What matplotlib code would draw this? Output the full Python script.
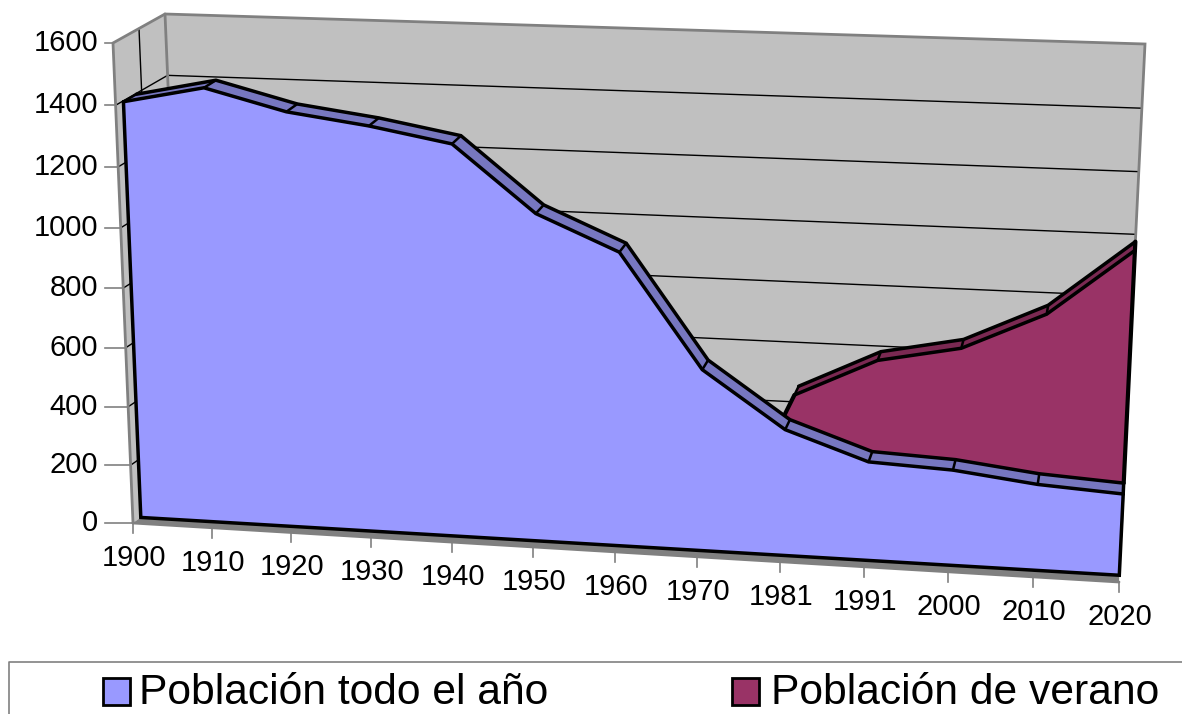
import matplotlib
matplotlib.use('Agg')
import matplotlib.pyplot as plt
import numpy as np
from matplotlib.patches import Rectangle

plt.rcParams['font.family'] = ['Liberation Sans', 'DejaVu Sans']

years = ['1900', '1910', '1920', '1930', '1940', '1950', '1960', '1970', '1981', '1991', '2000', '2010', '2020']
todo_el_ano = [1397, 1452, 1385, 1350, 1303, 1090, 977, 606, 422, 330, 318, 286, 270]
# verano only starts in 1981
verano_years = ['1981', '1991', '2000', '2010', '2020']
verano = [475, 603, 656, 780, 997]
y_ticks = [0, 200, 400, 600, 800, 1000, 1200, 1400, 1600]
legend_labels = ['Población todo el año', 'Población de verano']

BLUE = '#9999FF'
BLUE_TOP = '#7777C0'
PURPLE = '#993366'
PURPLE_TOP = '#7A2952'
WALL = '#C0C0C0'
EDGE = '#808080'

# box corners on screen (pixels): bottom left, bottom right, top left, top right
FRONT = [(133, 523), (1119, 582), (113, 43), (1143, 81)]
BACK = [(185, 486), (1121, 537), (165, 14), (1145, 44)]
Y_MAX = 1600
N = len(years) - 1

# depth of the two series inside the box (0 front, 1 back)
D_BLUE = (0.15, 0.40)
D_PURPLE = (0.62, 0.84)
# the purple face starts a little before its first year
PURPLE_LEAD = 0.07


def homography(corners):
    src = [(0, 0), (1, 0), (0, 1), (1, 1)]
    A, b = [], []
    for (u, v), (x, y) in zip(src, corners):
        A.append([u, v, 1, 0, 0, 0, -u * x, -v * x])
        A.append([0, 0, 0, u, v, 1, -u * y, -v * y])
        b += [x, y]
    h = np.linalg.solve(np.array(A, float), np.array(b, float))
    return np.append(h, 1).reshape(3, 3)


H_FRONT = homography(FRONT)
H_BACK = homography(BACK)


def project(i, value, depth):
    p = np.array([i / N, value / Y_MAX, 1.0])
    f = H_FRONT @ p
    b = H_BACK @ p
    f = f[:2] / f[2]
    b = b[:2] / b[2]
    return f + (b - f) * depth


def path(idx, values, depth):
    return np.array([project(i, v, depth) for i, v in zip(idx, values)])


def fill(ax, pts, color, z):
    pts = np.asarray(pts)
    ax.fill(pts[:, 0], pts[:, 1], color=color, lw=0, zorder=z)


def line(ax, pts, color='black', lw=2.5, z=5):
    pts = np.asarray(pts)
    ax.plot(pts[:, 0], pts[:, 1], color=color, lw=lw, zorder=z,
            solid_joinstyle='miter', solid_capstyle='round')


fig = plt.figure(figsize=(11.82, 7.14), dpi=100)
ax = fig.add_axes([0, 0, 1, 1])
ax.set_xlim(0, 1182)
ax.set_ylim(714, 0)
ax.axis('off')

# walls and floor
corner = project
fill(ax, [corner(0, 0, 1), corner(N, 0, 1), corner(N, Y_MAX, 1), corner(0, Y_MAX, 1)], WALL, 1)
fill(ax, [corner(0, 0, 0), corner(0, 0, 1), corner(0, Y_MAX, 1), corner(0, Y_MAX, 0)], WALL, 1)
fill(ax, [corner(0, 0, 0), corner(N, 0, 0), corner(N, 0, 1), corner(0, 0, 1)], EDGE, 1)

for v in y_ticks[1:-1]:
    line(ax, [corner(0, v, 0), corner(0, v, 1), corner(N, v, 1)], lw=1.0, z=2)
line(ax, [corner(0, Y_MAX, 0.5), corner(0, 0, 0.5)], lw=1.0, z=2)

line(ax, [corner(0, 0, 0), corner(0, Y_MAX, 0), corner(0, Y_MAX, 1), corner(N, Y_MAX, 1), corner(N, 0, 1)], EDGE, 2.0, 3)
line(ax, [corner(0, Y_MAX, 1), corner(0, 0, 1)], EDGE, 2.0, 3)
line(ax, [corner(0, 0, 0), corner(N, 0, 0)], EDGE, 2.0, 3)

# ticks
for v in y_ticks:
    x, y = corner(0, v, 0)
    ax.plot([105, x], [y, y], color=EDGE, lw=1.2, zorder=3)
    ax.text(98, y, str(v), ha='right', va='center', fontsize=21, color='black')
for i, year in enumerate(years):
    x, y = corner(i, 0, 0)
    ax.plot([x, x], [y, y + 10], color=EDGE, lw=1.2, zorder=3)
    ax.text(x + 1, y + 35, year, ha='center', va='center', fontsize=21, color='black')

# purple series
idx_v = [years.index(y) for y in verano_years]
blue_v = [todo_el_ano[i] for i in idx_v]
p_front = path(idx_v, verano, D_PURPLE[0])
p_back = path(idx_v, verano, D_PURPLE[1])
b_back_v = path(idx_v, blue_v, D_BLUE[1])
prev_point = project(idx_v[0] - 1, todo_el_ano[idx_v[0] - 1], D_BLUE[1])
p_start = b_back_v[0] + (prev_point - b_back_v[0]) * PURPLE_LEAD
fill(ax, np.vstack([p_front, b_back_v[::-1], [p_start]]), PURPLE, 4)
fill(ax, np.vstack([p_front, p_back[::-1]]), PURPLE_TOP, 4)
line(ax, p_front)
line(ax, p_back)
for a, b in zip(p_front, p_back):
    line(ax, [a, b], lw=1.8)
line(ax, [p_start, p_front[0]], lw=3.0)
line(ax, [b_back_v[-1], p_front[-1]], lw=3.0)
line(ax, [p_front[-1], p_back[-1]], lw=3.0)

# blue series
idx = list(range(len(years)))
b_front = path(idx, todo_el_ano, D_BLUE[0])
b_back = path(idx, todo_el_ano, D_BLUE[1])
bottom_l = project(0, 0, D_BLUE[0])
bottom_r = project(N, 0, D_BLUE[0])
fill(ax, np.vstack([b_back, b_front[::-1]]), BLUE_TOP, 6)
fill(ax, np.vstack([[bottom_l], b_front, [bottom_r]]), BLUE, 6)
line(ax, b_back, z=7)
line(ax, b_front, z=7)
for a, b in zip(b_front, b_back):
    line(ax, [a, b], lw=1.8, z=7)
line(ax, np.vstack([b_front[0], bottom_l, bottom_r, b_front[-1]]), z=7)
line(ax, [b_front[-1], b_back[-1]], z=7)

# legend
ax.plot([9, 9, 1182], [714, 662, 662], color=EDGE, lw=1.2, zorder=8)
for x, color, label, tx in zip([103, 732], [BLUE, PURPLE], legend_labels, [139, 771]):
    ax.add_patch(Rectangle((x, 678), 27, 27, facecolor=color, edgecolor='black', lw=2, zorder=8))
    ax.text(tx, 693, label, ha='left', va='center', fontsize=30.7, color='black')

fig.savefig('out.png', dpi=100)
